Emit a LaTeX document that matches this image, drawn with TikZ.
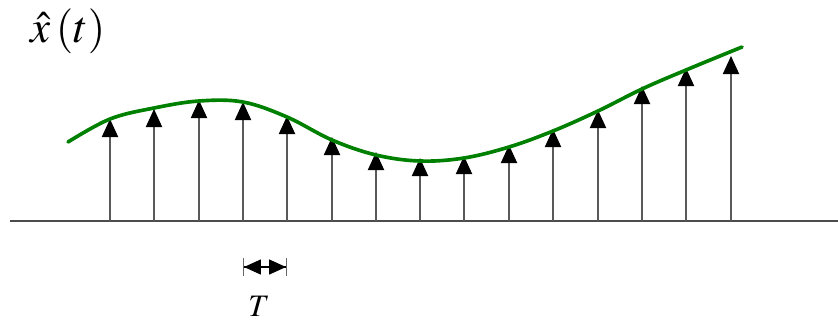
\documentclass[tikz,border=0pt]{standalone}
\usepackage{mathptmx}
\usetikzlibrary{arrows.meta}
\tikzset{
    axisline/.style={draw=black!70,line width=0.5pt},
    sample/.style={draw=black!65,line width=0.45pt,-{Triangle[width=6.3pt,length=7pt,black]}},
    envelope/.style={draw=green!50!black,line width=1.4pt,line cap=round},
    period/.style={draw=black,line width=0.4pt,
        {Bar[width=7pt,black!60]Triangle[width=5.8pt,length=6.5pt]}-{Triangle[width=5.8pt,length=6.5pt]Bar[width=7pt,black!60]}}
}
\begin{document}
\begin{tikzpicture}[x=0.0135cm,y=-0.0135cm]
    \useasboundingbox (0,0) rectangle (838,326);
    % time axis
    \coordinate (axL) at (10,221);
    \coordinate (axR) at (838,221);
    \draw[axisline] (axL) -- (axR);
    % samples
    \foreach \n/\x/\h in {1/110/119,2/154/109,3/199/100,4/243/102,5/287/116,
                          6/332/137,7/376/152,8/420/158,9/464/156,10/509/145,
                          11/553/129,12/598/110,13/642/86,14/686/68,15/731/56}{
        \coordinate (b\n) at (\x,221);
        \coordinate (s\n) at (\x,\h);
        \draw[sample] (b\n) -- (s\n);
    }
    % reconstructed signal
    \draw[envelope] plot[smooth,tension=0.6] coordinates {(68,142) (110,119) (154,108)
        (199,101) (243,102) (287,117) (332,140) (376,155) (420,161) (464,158)
        (509,147) (553,131) (598,111) (642,89) (686,70) (742,47)};
    % sampling period
    \coordinate (tL) at (243,267);
    \coordinate (tR) at (287,267);
    \draw[period] (tL) -- (tR);
    \node[font=\large] (T) at (259,306) {$T$};
    \node[font=\LARGE] (xhat) at (68,31) {$\hat{x}\left(t\right)$};
\end{tikzpicture}
\end{document}
